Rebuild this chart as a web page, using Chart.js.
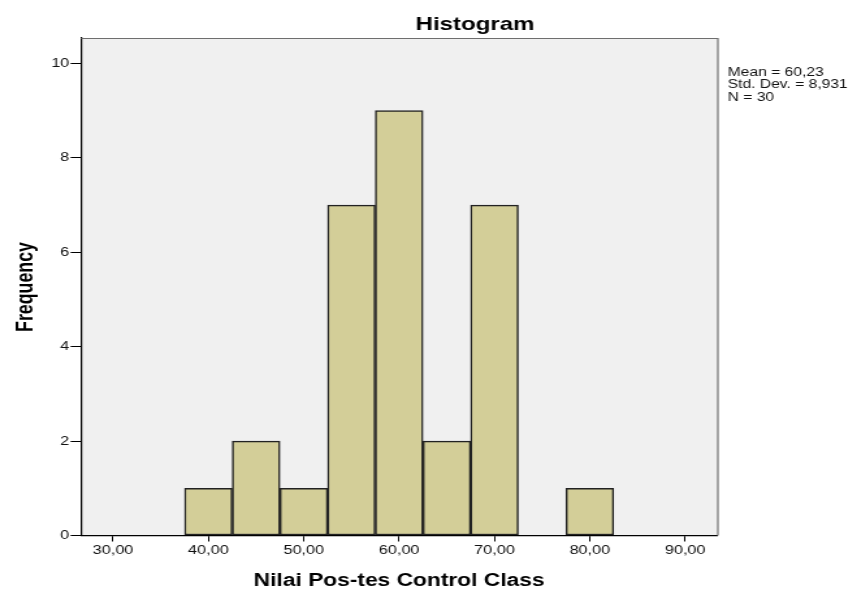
<!DOCTYPE html>
<html>
<head>
<meta charset="utf-8">
<script src="https://cdn.jsdelivr.net/npm/chart.js@4/dist/chart.umd.min.js"></script>
<style>
  html, body { margin: 0; padding: 0; background: #ffffff; overflow: hidden; }
  #wrap { width: 659px; height: 589px; transform: scaleX(1.3005); transform-origin: 0 0; }
  canvas { display: block; }
</style>
</head>
<body>
<div id="wrap"><canvas id="c" width="659" height="589"></canvas></div>
<script>
// ---- data ----
const binCenters = [40, 45, 50, 55, 60, 65, 70, 80];
const frequencies = [1, 2, 1, 7, 9, 2, 7, 1];
const xTickValues = [30, 40, 50, 60, 70, 80, 90];
const yTickValues = [0, 2, 4, 6, 8, 10];
const chartTitle = 'Histogram';
const xTitle = 'Nilai Pos-tes Control Class';
const yTitle = 'Frequency';
const statsLines = ['Mean = 60,23', 'Std. Dev. = 8,931', 'N = 30'];

const points = binCenters.map((x, i) => ({ x: x, y: frequencies[i] }));

const FONT = '"Liberation Sans", Arial, sans-serif';

const decor = {
  id: 'decor',
  beforeDraw(chart) {
    const { ctx, chartArea: a } = chart;
    ctx.save();
    ctx.fillStyle = '#f0f0f0';
    ctx.fillRect(a.left, a.top, a.right - a.left, a.bottom - a.top);
    ctx.restore();
  },
  afterDraw(chart) {
    const { ctx, chartArea: a } = chart;
    ctx.save();
    // top and right frame lines
    ctx.strokeStyle = '#6e6e6e';
    ctx.lineWidth = 1.2;
    ctx.beginPath();
    ctx.moveTo(a.left, a.top + 0.5);
    ctx.lineTo(a.right + 0.5, a.top + 0.5);
    ctx.lineTo(a.right + 0.5, a.bottom);
    ctx.stroke();

    ctx.fillStyle = '#000000';
    // main title
    ctx.font = 'bold 18.5px ' + FONT;
    ctx.textAlign = 'center';
    ctx.textBaseline = 'alphabetic';
    ctx.fillText(chartTitle, 365.3, 30);

    // x title
    ctx.font = 'bold 17.5px ' + FONT;
    ctx.fillText(xTitle, (a.left + a.right) / 2, 586);

    // y title
    ctx.save();
    ctx.translate(25.4, 287);
    ctx.rotate(-Math.PI / 2);
    ctx.font = 'bold 17.8px ' + FONT;
    ctx.textAlign = 'center';
    ctx.fillText(yTitle, 0, 0);
    ctx.restore();

    // stats box
    ctx.font = '12px ' + FONT;
    ctx.textAlign = 'left';
    ctx.fillStyle = '#111111';
    statsLines.forEach((t, i) => ctx.fillText(t, 559.6, 76 + i * 12.3));
    ctx.restore();
  }
};

new Chart(document.getElementById('c'), {
  type: 'bar',
  data: {
    datasets: [{
      data: points,
      backgroundColor: '#d3ce98',
      borderColor: '#222222',
      borderWidth: 1.5,
      borderSkipped: false,
      barPercentage: 1,
      categoryPercentage: 1
    }]
  },
  options: {
    responsive: false,
    animation: false,
    layout: { padding: { top: 38, right: 107.5, left: 0, bottom: 0 } },
    plugins: { legend: { display: false }, tooltip: { enabled: false }, title: { display: false } },
    scales: {
      x: {
        type: 'linear',
        offset: false,
        min: 26.64,
        max: 93.36,
        afterFit(s) { s.height = 53.5; },
        afterBuildTicks(s) { s.ticks = xTickValues.map(v => ({ value: v })); },
        ticks: {
          autoSkip: false,
          maxRotation: 0,
          padding: 2,
          color: '#111111',
          font: { family: FONT, size: 12.5 },
          callback: v => v.toFixed(2).replace('.', ',')
        },
        grid: { drawOnChartArea: false, drawTicks: true, tickLength: 6, color: '#000000', offset: false },
        border: { display: true, color: '#000000', width: 1.2 }
      },
      y: {
        type: 'linear',
        min: 0,
        max: 10.54,
        afterFit(s) { s.width = 62.3; },
        afterBuildTicks(s) { s.ticks = yTickValues.map(v => ({ value: v })); },
        ticks: {
          autoSkip: false,
          padding: 1,
          color: '#111111',
          font: { family: FONT, size: 12.5 },
          callback: v => String(v)
        },
        grid: { drawOnChartArea: false, drawTicks: true, tickLength: 8, color: '#000000' },
        border: { display: true, color: '#000000', width: 1.2 }
      }
    }
  },
  plugins: [decor]
});
</script>
</body>
</html>
